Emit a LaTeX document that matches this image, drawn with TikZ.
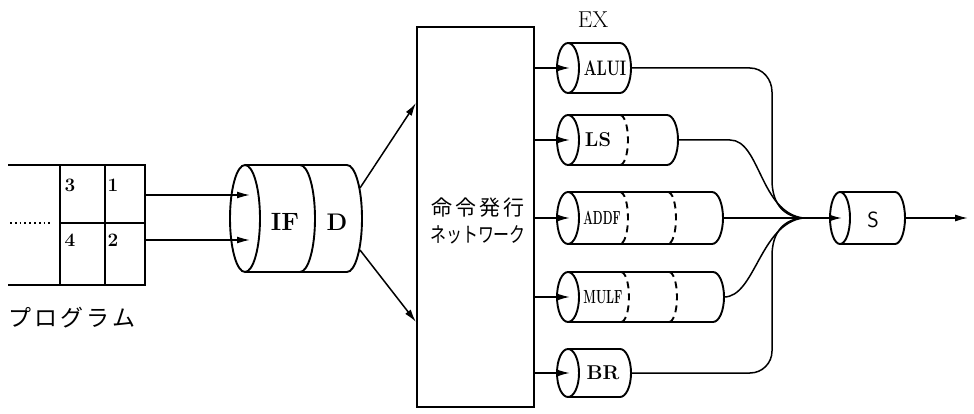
\documentclass[tikz,border=0pt]{standalone}
\usepackage{fontspec}
\newfontfamily\jp{Noto Sans CJK JP}
\usetikzlibrary{arrows.meta}
\newcommand{\mycyl}[5]{% cx, cy, ry, xend, rx
  \draw[shp] (#1,#2) ellipse [x radius=#5, y radius=#3];
  \draw[shp] (#1,#2-#3) -- (#4,#2-#3) arc[start angle=-90, end angle=90, x radius=#5, y radius=#3] -- (#1,#2+#3);
}
\newcommand{\mydash}[4]{% x, cy, ry, rx
  \draw[shp, dash pattern=on 7pt off 5pt] (#1,#2-#3) arc[start angle=-90, end angle=90, x radius=#4, y radius=#3];
}
\newcommand{\fs}[1]{\fontsize{#1}{#1}\selectfont}
\begin{document}
\begin{tikzpicture}[x=1pt, y=-1pt,
  shp/.style={line width=1.9pt},
  conn/.style={line width=1.5pt},
  arr/.style={conn, -{Latex[length=13pt,width=7pt]}},
  lbl/.style={inner sep=0pt, font=\bfseries},
  num/.style={inner sep=0pt, font=\bfseries\fs{19}}]
\useasboundingbox (0,0) rectangle (974,414);

% program box
\coordinate (pTL) at (8,165);
\coordinate (pBL) at (8,285);
\coordinate (pTR) at (145,165);
\coordinate (pBR) at (145,285);
\draw[shp] (pTL) -- (pTR) -- (pBR) -- (pBL);
\draw[shp] (60,165) -- (60,285);
\draw[shp] (105,165) -- (105,285);
\draw[shp] (60,223) -- (145,223);
\draw[line width=1.8pt, dash pattern=on 1.8pt off 3pt] (10,223) -- (52,223);
\node[num] (n3) at (70,185) {3};
\node[num] (n1) at (113,185) {1};
\node[num] (n4) at (70,240) {4};
\node[num] (n2) at (113,240) {2};
\node[inner sep=0pt, font=\jp\fs{23}] (prog) at (72,318) {プ\kern3ptロ\kern3ptグ\kern3ptラ\kern3ptム};

% IF / D
\mycyl{245}{218.5}{53.5}{347}{15}
\draw[shp] (300,165) arc[start angle=-90, end angle=90, x radius=15, y radius=53.5];
\node[lbl, font=\bfseries\fs{25}] (ifl) at (285,222) {IF};
\node[lbl, font=\bfseries\fs{24}] (dl) at (337,222) {D};
\coordinate (p1) at (145,195);
\coordinate (p2) at (145,240);
\coordinate (if1) at (250,195);
\coordinate (if2) at (250,240);
\draw[arr] (p1) -- (if1);
\draw[arr] (p2) -- (if2);

% network
\node[draw, shp, minimum width=117pt, minimum height=380pt, inner sep=0pt] (net) at (475.5,217) {};
\node[inner sep=0pt, font=\jp\fs{21}, align=center] (nettxt) at (478,221) {命\kern3pt令\kern3pt発\kern3pt行\\[6pt]\scalebox{0.76}[1]{ネットワーク}};
\coordinate (dup) at (360,188);
\coordinate (ddn) at (360,250);
\coordinate (netup) at (416,103);
\coordinate (netdn) at (416,322);
\draw[arr] (dup) -- (netup);
\draw[arr] (ddn) -- (netdn);

% EX units
\node[inner sep=0pt, font=\fs{23}] (ex) at (593,20) {EX};
\mycyl{568}{68}{25}{620}{11}
\mycyl{568}{140}{25}{667}{11}
\mydash{620}{140}{25}{8}
\mycyl{568}{218}{26}{712}{11}
\mydash{620}{218}{26}{8}
\mydash{668}{218}{26}{8}
\mycyl{568}{297}{25}{713}{11}
\mydash{621}{297}{25}{8}
\mydash{669}{297}{25}{8}
\mycyl{568}{373}{24}{620}{11}
\node[lbl] (alui) at (605,68) {\fs{21}\scalebox{0.72}[1]{ALUI}};
\node[lbl, font=\bfseries\fs{20}] (ls) at (598,140) {LS};
\node[lbl] (addf) at (602,218) {\fs{19}\scalebox{0.6}[1]{ADDF}};
\node[lbl] (mulf) at (603,297) {\fs{19}\scalebox{0.62}[1]{MULF}};
\node[lbl, font=\bfseries\fs{20}] (br) at (603,373) {BR};

\coordinate (aluiin) at (570,68);
\coordinate (lsin) at (570,140);
\coordinate (addfin) at (570,218);
\coordinate (mulfin) at (570,297);
\coordinate (brin) at (570,373);
\draw[arr] (net.east |- aluiin) -- (aluiin);
\draw[arr] (net.east |- lsin) -- (lsin);
\draw[arr] (net.east |- addfin) -- (addfin);
\draw[arr] (net.east |- mulfin) -- (mulfin);
\draw[arr] (net.east |- brin) -- (brin);

% merge
\coordinate (M) at (803,218);
\coordinate (aluiout) at (631,68);
\coordinate (lsout) at (678,140);
\coordinate (addfout) at (723,218);
\coordinate (mulfout) at (724,297);
\coordinate (brout) at (631,373);
\draw[conn] (aluiout) -- (750,68) to[out=0,in=90] (772,92) -- (772,180) .. controls (772,205) and (785,217) .. (M);
\draw[conn] (lsout) -- (730,140) .. controls (760,140) and (760,212) .. (M);
\draw[conn] (addfout) -- (M);
\draw[conn] (mulfout) .. controls (755,297) and (760,224) .. (M);
\draw[conn] (brout) -- (750,373) to[out=0,in=-90] (772,351) -- (772,256) .. controls (772,231) and (785,219) .. (M);

% S
\mycyl{840}{218}{26}{895}{10}
\node[inner sep=0pt, font=\sffamily\fs{22}] (s) at (873,220) {S};
\coordinate (sin) at (842,218);
\coordinate (sout) at (905,218);
\coordinate (fin) at (968,218);
\draw[arr] (M) -- (sin);
\draw[arr] (sout) -- (fin);
\end{tikzpicture}
\end{document}
